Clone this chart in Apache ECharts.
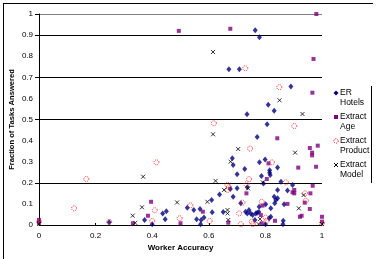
<!DOCTYPE html>
<html><head><meta charset="utf-8">
<script src="https://cdn.jsdelivr.net/npm/echarts@6/dist/echarts.min.js"></script>
<style>html,body{margin:0;padding:0;background:#fff}#c{width:377px;height:259px}</style>
</head><body><div id="c"></div>
<script>
var seriesNames = ['ER Hotels','Extract Age','Extract Product','Extract Model'];
var xTicks = [0,0.2,0.4,0.6,0.8,1];
var gridValues = [0.2,0.5,0.7,0.9,1];

var erHotels = [
[0.764,0.923],[0.779,0.89],[0.671,0.738],[0.708,0.738],[0.89,0.656],[0.81,0.57],[0.831,0.542],[0.735,0.525],[0.806,0.477],[0.771,0.417],
[0.683,0.316],[0.686,0.284],[0.799,0.311],[0.779,0.297],[0.843,0.273],[0.727,0.265],[0.815,0.26],[0.815,0.248],[0.817,0.237],[0.7,0.24],
[0.786,0.232],[0.793,0.197],[0.855,0.205],[0.896,0.19],[0.878,0.163],[0.843,0.166],[0.736,0.179],[0.7,0.174],[0.676,0.171],[0.686,0.134],
[0.831,0.134],[0.837,0.118],[0.843,0.127],[0.833,0.103],[0.801,0.098],[0.866,0.098],[0.819,0.079],[0.713,0.103],[0.73,0.063],[0.736,0.055],
[0.742,0.071],[0.748,0.055],[0.755,0.047],[0.766,0.055],[0.771,0.058],[0.777,0.062],[0.763,0.024],[0.813,0.032],[0.819,0.039],[0.863,0.02],
[0.778,0.087],[0.638,0.145],[0.61,0.118],[0.524,0.082],[0.569,0.076],[0.547,0.071],[0.612,0.06],[0.651,0.062],[0.45,0.065],[0.437,0.054],
[0.446,0.027],[0.373,0.024],[0.557,0.027],[0.573,0.024],[0.583,0.035],[0.248,0.013],[0.8,0.004],[0.862,0.004],[0.571,0.004],[0.4,0.004]
];
var extractAge = [
[0.98,1.0],[0.494,0.92],[0.676,0.93],[0.97,0.787],[0.966,0.627],[0.842,0.411],[0.985,0.376],[0.957,0.365],[0.965,0.343],[0.965,0.33],
[0.979,0.276],[0.916,0.272],[0.811,0.292],[0.805,0.218],[0.967,0.186],[0.902,0.166],[0.896,0.155],[0.902,0.15],[0.959,0.15],[0.939,0.106],
[0.733,0.15],[0.878,0.1],[0.79,0.092],[0.957,0.076],[0.922,0.039],[0.928,0.044],[1.0,0.039],[1.0,0.016],[0.784,0.047],[0.787,0.008],
[0.834,0.02],[0.669,0.011],[0.579,0.063],[0.396,0.11],[0.385,0.044],[0.5,0.008],[0.332,0.008],[0,0.024],[0,0.01]
];
var extractProduct = [
[0.729,0.743],[0.849,0.653],[0.618,0.482],[0.902,0.469],[0.746,0.362],[0.415,0.297],[0.823,0.297],[0.167,0.218],[0.124,0.079],[0.742,0.217],
[0.872,0.202],[0.733,0.193],[0.671,0.179],[0.666,0.19],[0.666,0.166],[0.943,0.115],[0.787,0.11],[0.719,0.106],[0.535,0.093],[0.409,0.07],
[0.4,0.019],[0.497,0.032],[0.603,0.019],[0.707,0.055],[0.752,0.016],[0.801,0.035],[0.804,0.02],[0.248,0.015],[1.0,0.008],[0,0.015],
[0.713,0.004],[0.755,0.004],[0.94,0.15]
];
var extractModel = [
[0.615,0.82],[0.85,0.591],[0.931,0.526],[0.615,0.43],[0.704,0.36],[0.905,0.343],[0.677,0.3],[0.368,0.229],[0.624,0.209],[0.791,0.202],
[0.654,0.166],[0.739,0.174],[0.935,0.142],[0.488,0.107],[0.595,0.11],[0.364,0.084],[0.918,0.079],[0.666,0.071],[0.666,0.055],[0.781,0.028],
[0.331,0.044],[0.669,0.024],[1.0,0.005],[0,0.005],[0.34,0.01],[0.776,0.004]
];

var FONT = '"Liberation Sans", Arial, sans-serif';
var chart = echarts.init(document.getElementById('c'), null, {renderer:'canvas'});
function fmt(v){ return String(Math.round(v*10)/10); }
var xPath = 'path://M0,0L10,10M10,0L0,10';

var legendItems = [];
var legendTexts = ['ER\nHotels','Extract\nAge','Extract\nProduct','Extract\nModel'];
for (var i=0;i<4;i++){
  var cy = 93 + i*24;
  if (i===0) legendItems.push({type:'polygon', shape:{points:[[336,cy-2.5],[338.5,cy],[336,cy+2.5],[333.5,cy]]}, style:{fill:'#000080'}});
  else if (i===1) legendItems.push({type:'rect', shape:{x:334,y:cy-2,width:4,height:4}, style:{fill:'#800080'}});
  else if (i===2) legendItems.push({type:'circle', shape:{cx:336,cy:cy,r:2.2}, style:{fill:'none',stroke:'#ff0000',lineWidth:1,lineDash:[1,1]}});
  else {
    legendItems.push({type:'line', shape:{x1:334,y1:cy-2,x2:338,y2:cy+2}, style:{stroke:'#000',lineWidth:1}});
    legendItems.push({type:'line', shape:{x1:338,y1:cy-2,x2:334,y2:cy+2}, style:{stroke:'#000',lineWidth:1}});
  }
  legendItems.push({type:'text', x:340, y:cy-4.75, style:{text:legendTexts[i], font:'8.5px '+FONT, fill:'#000', lineHeight:9.5, verticalAlign:'top', align:'left'}});
}

chart.setOption({
  animation:false,
  backgroundColor:'#fff',
  grid:{left:39, right:55, top:14, bottom:34, containLabel:false, outerBoundsMode:'none'},
  xAxis:{
    type:'value', min:0, max:1, interval:0.2,
    name:'Worker Accuracy', nameLocation:'middle', nameGap:19, nameMoveOverlap:false,
    nameTextStyle:{fontFamily:FONT, fontSize:8, fontWeight:'bold', color:'#000'},
    axisLine:{show:true, lineStyle:{color:'#000', width:1}},
    axisTick:{show:true, inside:true, length:2, lineStyle:{color:'#000'}},
    axisLabel:{fontFamily:FONT, fontSize:8, color:'#000', margin:7, formatter:fmt},
    splitLine:{show:false}
  },
  yAxis:{
    type:'value', min:0, max:1, interval:0.1,
    name:'Fraction of Tasks Answered', nameLocation:'middle', nameGap:23, nameMoveOverlap:false,
    nameTextStyle:{fontFamily:FONT, fontSize:7.6, fontWeight:'bold', color:'#000'},
    axisLine:{show:true, lineStyle:{color:'#000', width:1}},
    axisTick:{show:true, length:4, customValues:gridValues, lineStyle:{color:'#000'}},
    axisLabel:{fontFamily:FONT, fontSize:8, color:'#000', margin:6, formatter:fmt},
    splitLine:{show:true, lineStyle:{color:['#000','#000','#000','#000','#808080'], width:1}}
  },
  graphic:[
    {type:'line', shape:{x1:3,y1:3.5,x2:373,y2:3.5}, style:{stroke:'#000',lineWidth:1}},
    {type:'line', shape:{x1:3.5,y1:3,x2:3.5,y2:259}, style:{stroke:'#000',lineWidth:1}},
    {type:'line', shape:{x1:371.5,y1:86,x2:371.5,y2:183}, style:{stroke:'#000',lineWidth:1}}
  ].concat(legendItems),
  series:[
    {name:seriesNames[0], type:'scatter', data:erHotels, symbol:'diamond', symbolSize:[5,6], itemStyle:{color:'#000080'}, silent:true},
    {name:seriesNames[1], type:'scatter', data:extractAge, symbol:'rect', symbolSize:4, itemStyle:{color:'#800080'}, silent:true},
    {name:seriesNames[2], type:'scatter', data:extractProduct, symbol:'circle', symbolSize:5, itemStyle:{color:'transparent', borderColor:'#ff0000', borderWidth:1, borderType:[1,1]}, silent:true},
    {name:seriesNames[3], type:'scatter', data:extractModel, symbol:xPath, symbolSize:4, itemStyle:{color:'transparent', borderColor:'#000', borderWidth:1}, silent:true}
  ]
});
</script></body></html>
